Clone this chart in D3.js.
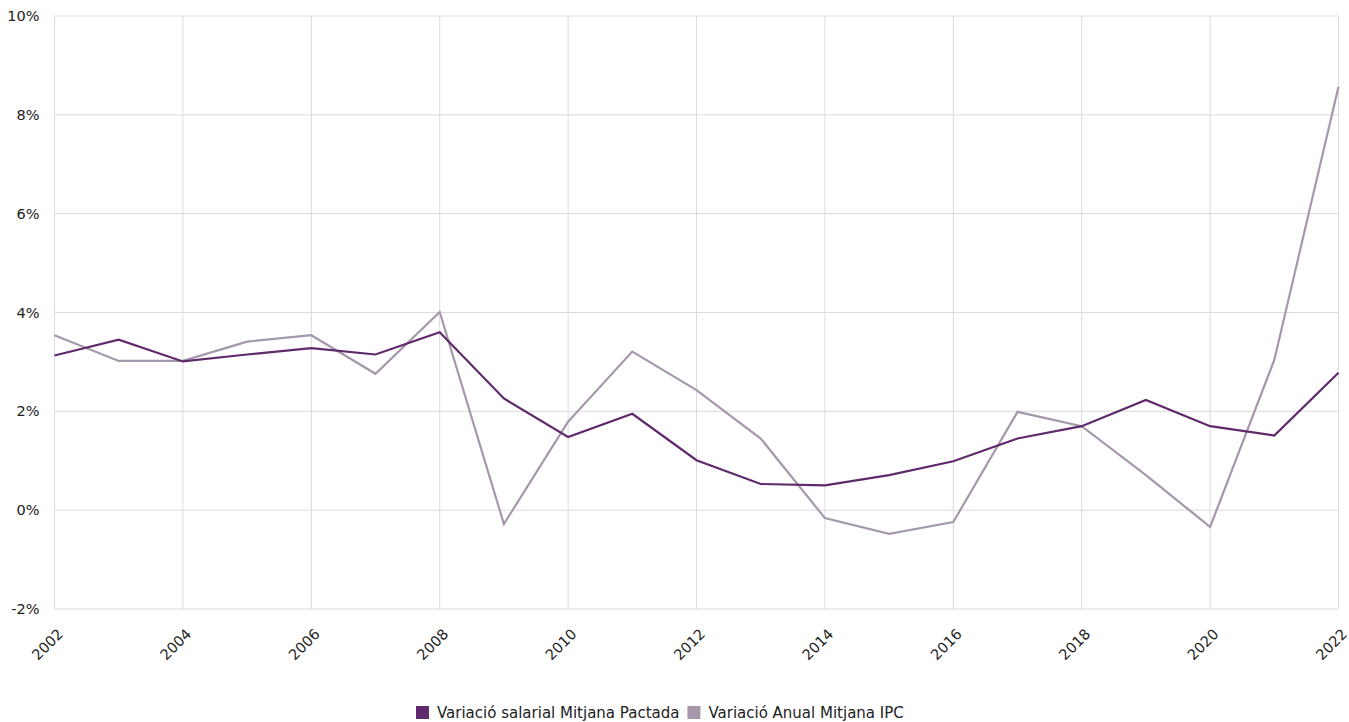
<!DOCTYPE html>
<html><head><meta charset="utf-8">
<script src="https://cdn.jsdelivr.net/npm/d3@7"></script>
<style>
body{margin:0;background:#fff;}
text{font-family:"DejaVu Sans",sans-serif;}
</style></head>
<body>
<svg id="c" width="1349" height="722"></svg>
<script>
const years = [2002,2003,2004,2005,2006,2007,2008,2009,2010,2011,2012,2013,2014,2015,2016,2017,2018,2019,2020,2021,2022];
const salarial = [3.13,3.45,3.01,3.15,3.28,3.15,3.60,2.26,1.48,1.95,1.01,0.53,0.50,0.71,0.99,1.45,1.70,2.23,1.70,1.51,2.78];
const ipc = [3.54,3.02,3.02,3.41,3.54,2.76,4.01,-0.28,1.79,3.21,2.43,1.45,-0.16,-0.48,-0.24,1.99,1.70,0.71,-0.34,3.04,8.57];
const yTicks = [-2,0,2,4,6,8,10];
const xTicks = [2002,2004,2006,2008,2010,2012,2014,2016,2018,2020,2022];
const seriesNames = ["Variació salarial Mitjana Pactada","Variació Anual Mitjana IPC"];
const colors = ["#5f2a6c","#a698ab"];

const svg = d3.select("#c");
const m = {l:54.5, r:1338.5, t:16, b:609};
const x = d3.scaleLinear().domain([2002,2022]).range([m.l,m.r]);
const y = d3.scaleLinear().domain([-2,10]).range([m.b,m.t]);

const g = svg.append("g");
g.selectAll(".hg").data(yTicks).enter().append("line")
 .attr("x1",m.l).attr("x2",m.r).attr("y1",d=>y(d)).attr("y2",d=>y(d))
 .attr("stroke","#dcd9df").attr("stroke-width",1);
g.selectAll(".vg").data(xTicks).enter().append("line")
 .attr("x1",d=>x(d)).attr("x2",d=>x(d)).attr("y1",m.t).attr("y2",m.b)
 .attr("stroke","#dcd9df").attr("stroke-width",1);

const ya = svg.append("g").attr("transform",`translate(${m.l},0)`)
 .call(d3.axisLeft(y).tickValues(yTicks).tickSize(0).tickPadding(15).tickFormat(d=>d+"%"));
ya.select(".domain").remove();
ya.selectAll("text").attr("font-size",14.5).attr("fill","#222");

const xa = svg.append("g").attr("transform",`translate(0,${m.b})`)
 .call(d3.axisBottom(x).tickValues(xTicks).tickSize(0).tickFormat(d3.format("d")));
xa.select(".domain").remove();
xa.selectAll("text").attr("font-size",14.5).attr("fill","#222")
 .attr("text-anchor","end").attr("dy",0).attr("y",0)
 .attr("transform","translate(9,26) rotate(-45)");

const line = d3.line().x((d,i)=>x(years[i])).y(d=>y(d));
svg.append("path").datum(ipc).attr("d",line).attr("fill","none")
 .attr("stroke",colors[1]).attr("stroke-width",2.2);
svg.append("path").datum(salarial).attr("d",line).attr("fill","none")
 .attr("stroke",colors[0]).attr("stroke-width",2.2);

const lg = svg.append("g");
let lx = 416;
seriesNames.forEach((n,i)=>{
  lg.append("rect").attr("x",lx).attr("y",706).attr("width",13).attr("height",13).attr("fill",colors[i]);
  const t = lg.append("text").attr("x",lx+21).attr("y",718).attr("font-size",15).attr("fill","#222").text(n);
  lx += 21 + t.node().getComputedTextLength() + 8;
});
</script>
</body></html>
